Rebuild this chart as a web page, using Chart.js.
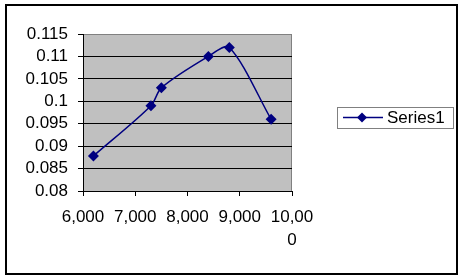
<!DOCTYPE html>
<html lang="en">
<head>
  <meta charset="UTF-8">
  <title>Series1 scatter</title>
  <script src="https://cdn.jsdelivr.net/npm/chart.js"></script>
  <style>
    html, body { margin: 0; padding: 0; background: #fff; }
    #wrap { width: 463px; height: 280px; }
  </style>
</head>
<body>
<div id="wrap"><canvas id="chart" width="463" height="280"></canvas></div>

<script>
  const seriesName = 'Series1';
  const xValues = [6200, 7300, 7500, 8400, 8800, 9600];
  const yValues = [0.0878, 0.099, 0.103, 0.110, 0.112, 0.096];
  const xTickLabels = ['6,000', '7,000', '8,000', '9,000', ['10,00', '0']];
  const yTickLabels = ['0.08', '0.085', '0.09', '0.095', '0.1', '0.105', '0.11', '0.115'];

  const FONT = { family: '"Liberation Sans", Arial, sans-serif', size: 17 };
  const NAVY = '#000080';

  // plot background, outer frame and the Excel-style legend box
  const excelLook = {
    id: 'excelLook',
    beforeDraw(chart) {
      const { ctx, chartArea: a } = chart;
      ctx.save();
      ctx.fillStyle = '#fff';
      ctx.fillRect(0, 0, chart.width, chart.height);
      ctx.fillStyle = '#c0c0c0';
      ctx.fillRect(a.left, a.top, a.right - a.left, a.bottom - a.top);
      ctx.strokeStyle = '#808080';
      ctx.lineWidth = 1;
      ctx.strokeRect(a.left + 0.5, a.top + 0.5, a.right - a.left - 1, a.bottom - a.top);
      ctx.restore();
    },
    afterDraw(chart) {
      const { ctx } = chart;
      ctx.save();
      ctx.strokeStyle = '#000';
      ctx.lineWidth = 2;
      ctx.strokeRect(6, 5, 451, 269);

      // legend
      ctx.strokeStyle = '#808080';
      ctx.lineWidth = 1;
      ctx.strokeRect(337.5, 107.5, 116, 21);
      const ly = 117.5;
      ctx.strokeStyle = NAVY;
      ctx.lineWidth = 1.5;
      ctx.beginPath();
      ctx.moveTo(343, ly);
      ctx.lineTo(383, ly);
      ctx.stroke();
      ctx.fillStyle = NAVY;
      ctx.beginPath();
      ctx.moveTo(362, ly - 5);
      ctx.lineTo(367, ly);
      ctx.lineTo(362, ly + 5);
      ctx.lineTo(357, ly);
      ctx.closePath();
      ctx.fill();
      ctx.fillStyle = '#000';
      ctx.font = FONT.size + 'px ' + FONT.family;
      ctx.textBaseline = 'middle';
      ctx.fillText(chart.data.datasets[0].label, 387, ly + 1);
      ctx.restore();
    }
  };

  const ctx = document.getElementById('chart').getContext('2d');
  new Chart(ctx, {
    type: 'scatter',
    data: {
      datasets: [{
        label: seriesName,
        data: xValues.map((x, i) => ({ x: x, y: yValues[i] })),
        showLine: true,
        tension: 0.3,
        borderColor: NAVY,
        borderWidth: 1.5,
        pointStyle: 'rectRot',
        pointRadius: 5.5,
        pointBackgroundColor: NAVY,
        pointBorderColor: NAVY,
        pointBorderWidth: 0
      }]
    },
    options: {
      responsive: false,
      animation: false,
      events: [],
      layout: { padding: { left: 8, top: 34, right: 171, bottom: 8 } },
      plugins: {
        legend: { display: false },
        tooltip: { enabled: false }
      },
      scales: {
        x: {
          type: 'linear',
          min: 6000,
          max: 10000,
          afterFit(scale) { scale.height = 81; },
          afterBuildTicks(scale) {
            scale.ticks = xTickLabels.map((l, i) => ({ value: 6000 + i * 1000 }));
          },
          ticks: {
            color: '#000',
            font: { family: FONT.family, size: FONT.size, lineHeight: 1.4 },
            padding: 9,
            maxRotation: 0,
            autoSkip: false,
            callback: (v, i) => xTickLabels[i]
          },
          grid: {
            drawOnChartArea: false,
            drawTicks: true,
            tickLength: 5,
            tickColor: '#000'
          },
          border: { display: true, color: '#000', width: 1 }
        },
        y: {
          min: 0.08,
          max: 0.115,
          afterFit(scale) { scale.width = 75; },
          afterBuildTicks(scale) {
            scale.ticks = yTickLabels.map(l => ({ value: parseFloat(l) }));
          },
          ticks: {
            color: '#000',
            font: FONT,
            padding: 10,
            autoSkip: false,
            callback: (v, i) => yTickLabels[i]
          },
          grid: {
            color: (c) => c.index === yTickLabels.length - 1 ? '#808080' : '#000',
            lineWidth: 1,
            tickLength: 5,
            tickColor: '#000'
          },
          border: { display: true, color: '#000', width: 1 }
        }
      }
    },
    plugins: [excelLook]
  });
</script>
</body>
</html>
